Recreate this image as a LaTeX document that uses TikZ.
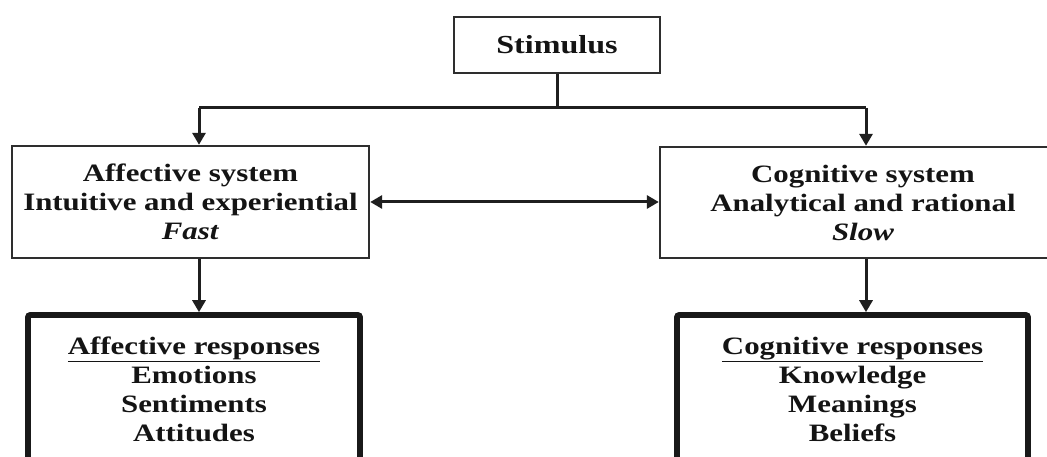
\documentclass[tikz,border=0pt]{standalone}
\usepackage{fontspec}
\setmainfont[FakeStretch=1.235]{Liberation Serif}
\usetikzlibrary{arrows.meta}
\begin{document}
\begin{tikzpicture}[x=1pt,y=-1pt,
  txt/.style={font=\fontsize{25}{29}\selectfont\bfseries, text=black!92},
  sysbox/.style={txt, draw=black!82, line width=2.4pt, align=center, inner sep=0pt},
  respbox/.style={txt, draw=black!90, line width=5.6pt, rounded corners=2pt, align=center, inner sep=0pt},
  wire/.style={line width=3pt, draw=black!88},
  tip/.style={},
  conn/.style={wire, -{Triangle[length=12pt,width=13pt]}},
  biconn/.style={wire, {Triangle[length=12pt,width=13pt]}-{Triangle[length=12pt,width=13pt]}}
]
\useasboundingbox (0,0) rectangle (1047,457);
\fill[white] (0,0) rectangle (1047,457);

\node[sysbox, minimum width=206pt, minimum height=56pt, font=\fontsize{26}{30}\selectfont\bfseries] (stim) at (557,45) {Stimulus};
\node[sysbox, minimum width=357pt, minimum height=112pt] (aff) at (190.5,202) {Affective system\\Intuitive and experiential\\\textit{Fast}};
\node[sysbox, minimum width=406pt, minimum height=111pt] (cog) at (863,202.5) {Cognitive system\\Analytical and rational\\\textit{Slow}};
\node[respbox, minimum width=332pt, minimum height=148pt] (affr) at (194,389) {\underline{Affective responses}\\Emotions\\Sentiments\\Attitudes};
\node[respbox, minimum width=351pt, minimum height=148pt] (cogr) at (852.5,389) {\underline{Cognitive responses}\\Knowledge\\Meanings\\Beliefs};

\coordinate (split) at (557,108);
\coordinate (la) at (199,108);
\coordinate (ra) at (866,108);

\draw[wire] (stim.south) -- (split);
\draw[wire] (la) -- (ra);
\draw[conn] (la) -- (la |- aff.north);
\draw[conn] (ra) -- (ra |- cog.north);
\draw[biconn] (aff.east) -- (aff.east -| cog.west);
\draw[conn] (la |- aff.south) -- (la |- affr.north);
\draw[conn] (ra |- cog.south) -- (ra |- cogr.north);
\end{tikzpicture}
\end{document}
